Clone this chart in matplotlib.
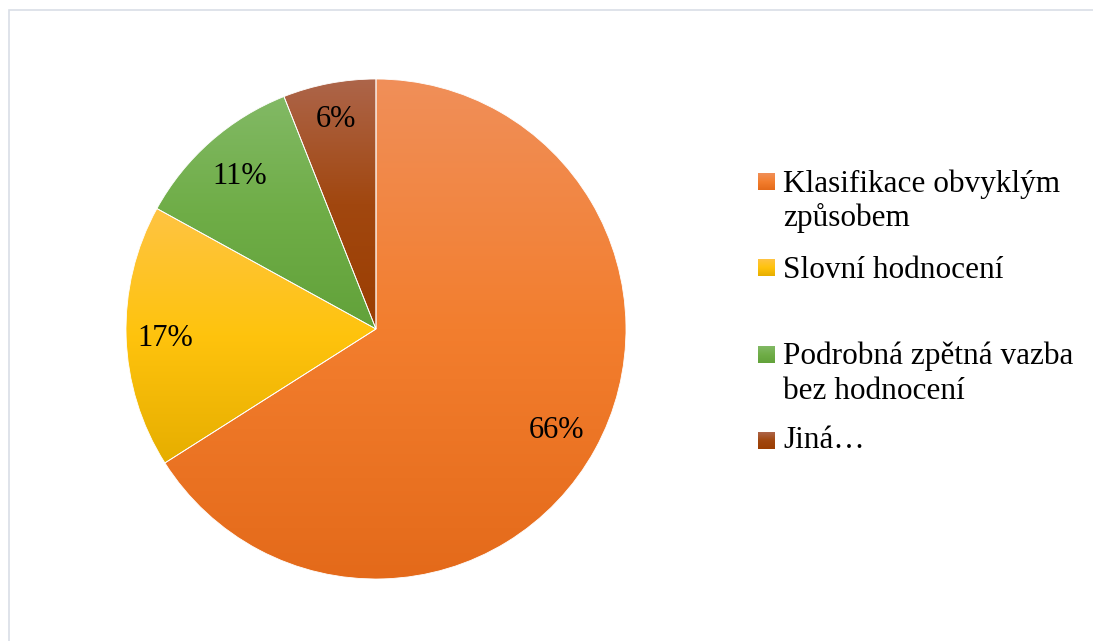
import numpy as np
import matplotlib
matplotlib.use('Agg')
from matplotlib import pyplot as plt
from matplotlib.colors import LinearSegmentedColormap
from matplotlib.patches import Rectangle

# data
labels = [['Klasifikace obvyklým', 'způsobem'], ['Slovní hodnocení'],
          ['Podrobná zpětná vazba', 'bez hodnocení'], ['Jiná…']]
values = [66, 17, 11, 6]
top_colors = ['#F08F59', '#FEC443', '#82B965', '#AD654A']
mid_colors = ['#F37E2E', '#FFC30D', '#6FAD47', '#A1470F']
bottom_colors = ['#E46A1A', '#E6AE00', '#62A23A', '#9B3E02']

W, H = 1093, 641
CX, CY, R = 376, H - 329, 250
plt.rcParams['font.family'] = ['Liberation Serif', 'DejaVu Serif']

fig = plt.figure(figsize=(W / 100, H / 100), dpi=100)
ax = fig.add_axes([0, 0, 1, 1])

# chart frame (only left/top edges visible)
ax.add_patch(Rectangle((8.5, -20), W + 40, H - 9.5 + 20, fill=False,
                       edgecolor='#D9DEE6', lw=1.2))

wedges, _ = ax.pie(
    values, center=(CX, CY), radius=R, startangle=90, counterclock=False,
    wedgeprops=dict(facecolor='none', edgecolor='white', lw=0.6), frame=True)


def grad_cmap(c_bot, c_mid, c_top):
    return LinearSegmentedColormap.from_list('g', [c_bot, c_mid, c_top])


grad = np.linspace(0, 1, 256).reshape(-1, 1)
for w, c_top, c_mid, c_bot in zip(wedges, top_colors, mid_colors, bottom_colors):
    ext = w.get_path().get_extents()
    im = ax.imshow(grad, cmap=grad_cmap(c_bot, c_mid, c_top), origin='lower',
                   aspect='auto', extent=[ext.x0, ext.x1, ext.y0, ext.y1],
                   zorder=0.5)
    im.set_clip_path(w)

# percentage labels
label_dist = [0.822, 0.845, 0.827, 0.863]
for w, v, d in zip(wedges, values, label_dist):
    ang = np.radians((w.theta1 + w.theta2) / 2)
    x = CX + R * d * np.cos(ang)
    y = CY + R * d * np.sin(ang)
    ax.text(x, y - 10, f'{v}%', fontsize=22, ha='center', va='baseline',
            zorder=5)

# legend, placed by hand
sq_y = [182, 268, 355, 441]
baselines = [[192, 226], [278], [364, 399], [448]]
for lab, c_top, c_mid, c_bot, sy, bys in zip(labels, top_colors, mid_colors,
                                             bottom_colors, sq_y, baselines):
    ax.imshow(grad, cmap=grad_cmap(c_bot, c_mid, c_top), origin='lower',
              aspect='auto', extent=[758, 775, H - sy - 8.5, H - sy + 8.5],
              zorder=2)
    for line, by in zip(lab, bys):
        ax.text(783, H - by, line, fontsize=22.5, va='baseline', ha='left')

ax.set_xlim(0, W)
ax.set_ylim(0, H)
ax.set_aspect('equal')
ax.axis('off')

fig.savefig('out.png', dpi=100, facecolor='white')
